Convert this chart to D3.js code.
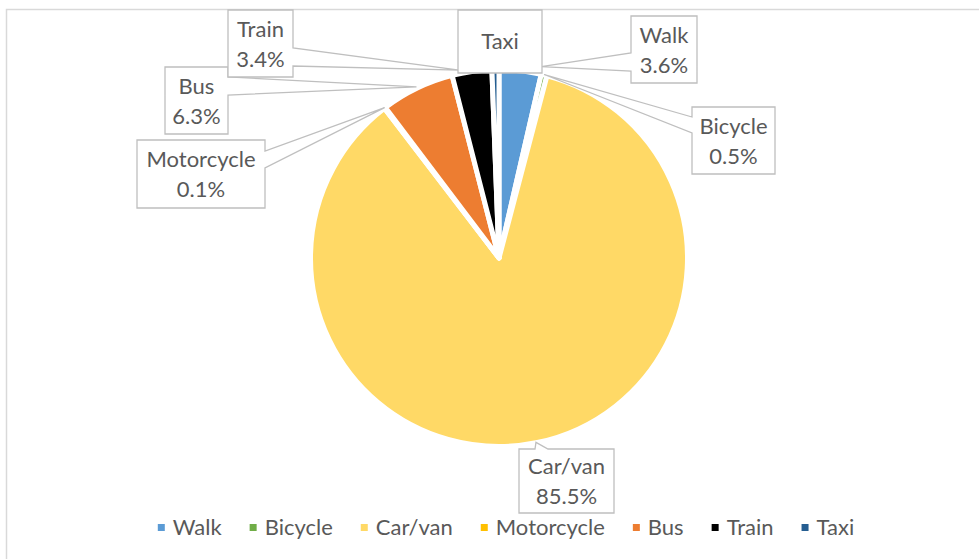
<!DOCTYPE html>
<html>
<head>
<meta charset="utf-8">
<script src="https://cdn.jsdelivr.net/npm/d3@7/dist/d3.min.js"></script>
<style>
  html, body { margin: 0; padding: 0; background: #fff; }
  svg { display: block; }
  text { font-family: Lato, "Open Sans", sans-serif; fill: #595959; }
</style>
</head>
<body>
<svg id="chart" width="979" height="559"></svg>
<script>
// ---- data ----
const categories = ["Walk", "Bicycle", "Car/van", "Motorcycle", "Bus", "Train", "Taxi"];
const shares = [3.6, 0.5, 85.5, 0.1, 6.3, 3.4, 0.6];
const colors = ["#5B9BD5", "#70AD47", "#FFD966", "#FFC000", "#ED7D31", "#000000", "#255E91"];

// ---- layout (label callout boxes; annotation placement only) ----
const W = 979, H = 559;
const cx = 499, cy = 258, R = 188.5;
const FONT = 22;
const calloutLayout = {
  "Walk":       {box: [631, 16, 697, 83],   side: "left",  base: [53, 71],   t: 0.96, r: 196, pct: true},
  "Bicycle":    {box: [692, 107, 775, 174], side: "left",  base: [117, 133], t: 0.5,  r: 189, pct: true},
  "Car/van":    {box: [519, 449, 614, 513], side: "top",   base: [535, 548], t: 0.5,  r: 188, pct: true},
  "Motorcycle": {box: [137, 140, 265, 208], side: "right", base: [151, 168], t: 0.5,  r: 189, pct: true},
  "Bus":        {box: [165, 67, 228, 134],  side: "right", base: [77, 95],   t: 0.5,  r: 190, pct: true},
  "Train":      {box: [228, 10, 293, 77],   side: "right", base: [48, 66],   t: 0.2,  r: 192, pct: true},
  "Taxi":       {box: [458, 10, 542, 73],   side: "none",  base: null,       t: 0.5,  r: 189, pct: false}
};

const svg = d3.select("#chart");

// chart area border
svg.append("rect")
  .attr("x", 6.5).attr("y", 9.5)
  .attr("width", W + 20).attr("height", H + 20)
  .attr("fill", "none").attr("stroke", "#D9D9D9").attr("stroke-width", 1.5);

const data = categories.map((c, i) => ({cat: c, value: shares[i], color: colors[i]}));
const pie = d3.pie().sort(null).value(d => d.value);
const arcs = pie(data);
const arc = d3.arc().innerRadius(0).outerRadius(R);

const g = svg.append("g").attr("transform", `translate(${cx},${cy})`);
g.selectAll("path.slice")
  .data(arcs)
  .join("path")
  .attr("class", "slice")
  .attr("d", arc)
  .attr("fill", d => d.data.color)
  .attr("stroke", "#ffffff")
  .attr("stroke-width", 5)
  .attr("stroke-linejoin", "round");

// callout labels
const fmt = d3.format(".1f");
const labelsG = svg.append("g");
arcs.forEach(a => {
  const L = calloutLayout[a.data.cat];
  const ang = a.startAngle + (a.endAngle - a.startAngle) * L.t;
  const tip = [cx + L.r * Math.sin(ang), cy - L.r * Math.cos(ang)];
  const [x0, y0, x1, y1] = L.box;
  let pts;
  if (L.side === "right") {
    pts = [[x0, y0], [x1, y0], [x1, L.base[0]], tip, [x1, L.base[1]], [x1, y1], [x0, y1]];
  } else if (L.side === "left") {
    pts = [[x0, y0], [x1, y0], [x1, y1], [x0, y1], [x0, L.base[1]], tip, [x0, L.base[0]]];
  } else if (L.side === "top") {
    pts = [[x0, y0], [L.base[0], y0], tip, [L.base[1], y0], [x1, y0], [x1, y1], [x0, y1]];
  } else {
    pts = [[x0, y0], [x1, y0], [x1, y1], [x0, y1]];
  }
  labelsG.append("path")
    .attr("d", d3.line()(pts) + "Z")
    .attr("fill", "#ffffff")
    .attr("stroke", "#BFBFBF")
    .attr("stroke-width", 1.3)
    .attr("stroke-linejoin", "miter");
  const mx = (x0 + x1) / 2, my = (y0 + y1) / 2;
  if (L.pct) {
    labelsG.append("text").attr("x", mx).attr("y", my - 7)
      .attr("text-anchor", "middle").attr("font-size", FONT).text(a.data.cat);
    labelsG.append("text").attr("x", mx).attr("y", my + 23)
      .attr("text-anchor", "middle").attr("font-size", FONT).text(fmt(a.data.value) + "%");
  } else {
    labelsG.append("text").attr("x", mx).attr("y", my + 7.5)
      .attr("text-anchor", "middle").attr("font-size", FONT).text(a.data.cat);
  }
});

// legend
const legend = svg.append("g");
const items = legend.selectAll("g.item").data(data).join("g").attr("class", "item");
items.append("rect").attr("width", 7).attr("height", 7).attr("y", -11).attr("fill", d => d.color);
items.append("text").attr("x", 15).attr("y", 0).attr("font-size", FONT).text(d => d.cat);
let xpos = 0;
const gap = 28;
items.each(function () {
  const el = d3.select(this);
  el.attr("transform", `translate(${xpos},0)`);
  const w = el.select("text").node().getComputedTextLength();
  xpos += 15 + w + gap;
});
const totalW = xpos - gap;
legend.attr("transform", `translate(${506 - totalW / 2},535)`);
</script>
</body>
</html>
